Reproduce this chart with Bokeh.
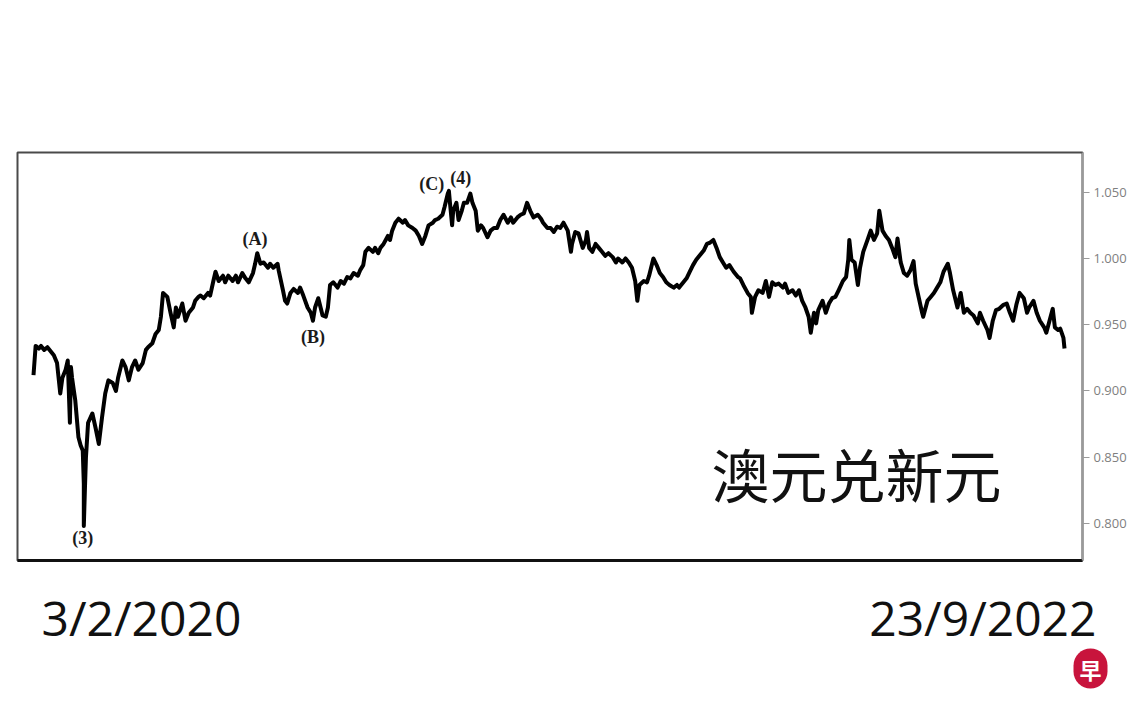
import pandas as pd
from bokeh.plotting import figure
from bokeh.layouts import column
from bokeh.models import Range1d, FixedTicker, NumeralTickFormatter, Label
from bokeh.embed import file_html
from bokeh.resources import INLINE

# ---------------- data ----------------
start_date = "2020-02-03"
end_date = "2022-09-23"

# day offsets from start_date
days = [
    0, 2, 5, 7, 10, 13, 16, 19, 22, 25, 27, 30, 32, 34, 35, 36, 39, 42, 44, 46,
    47, 47, 48, 49, 51, 55, 58, 61, 64, 67, 70, 74, 77, 79, 83, 86, 89, 92, 95, 98,
    102, 105, 107, 111, 114, 117, 119, 121, 125, 128, 131, 133, 135, 139, 142, 145, 149, 151, 154,
    156, 159, 163, 165, 168, 170, 173, 177, 179, 182, 186, 189, 191, 195, 198, 201, 205, 207, 209, 212,
    215, 219, 221, 224, 228, 229, 233, 235, 237, 240, 243, 247, 249, 252, 256, 259, 261, 263, 266, 270,
    273, 275, 277, 280, 284, 287, 290, 293, 296, 299, 303, 305, 308, 310, 313, 317, 319, 322, 324,
    327, 331, 333, 335, 338, 341, 345, 347, 350, 354, 357, 360, 363, 366, 369, 373, 375, 378, 382, 384,
    387, 388, 389, 391, 392, 395, 397, 400, 402, 405, 408, 410, 413, 415, 418, 420, 424, 427, 430, 433,
    436, 439, 443, 446, 448, 452, 455, 458, 461, 464, 467, 471, 474, 476, 480, 483, 486, 489,
    492, 495, 499, 502, 503, 506, 509, 513, 516, 517, 519, 522, 525, 528, 531, 534, 537, 541, 544, 546,
    550, 553, 556, 559, 562, 564, 566, 570, 573, 575, 579, 582, 585, 588, 591, 594, 598, 601, 603, 607,
    610, 613, 616, 619, 622, 626, 629, 632, 635, 638, 641, 644, 647, 650,
    654, 658, 660, 663, 667, 670, 671, 674, 677, 681, 684, 687, 690, 693, 696, 700, 702, 705, 709, 712,
    715, 718, 721, 724, 726, 729, 731, 733, 737, 740, 743, 746, 749, 752, 756, 759, 761, 762, 764, 767,
    770, 772, 775, 779, 782, 785, 788, 790, 793, 796, 799, 802, 805, 807, 810, 813, 816, 819, 822,
    824, 827, 830, 831, 835, 838, 841, 844, 847, 850, 854, 856, 859, 863, 866, 869, 872, 875, 878, 882,
    884, 887, 891, 893, 896, 899, 902, 906, 909, 912, 915, 918, 921, 925, 928, 930, 934, 937, 940, 944,
    946, 949, 952, 954, 957, 959, 962, 963,
]

# AUD/SGD rate
rate = [
    0.912, 0.934, 0.932, 0.934, 0.931, 0.933, 0.930, 0.927, 0.921, 0.898, 0.910, 0.916, 0.923, 0.876, 0.918, 0.910, 0.893, 0.865, 0.859, 0.855,
    0.830, 0.798, 0.825, 0.850, 0.876, 0.883, 0.872, 0.860, 0.880, 0.898, 0.908, 0.906, 0.900, 0.910, 0.923, 0.918, 0.908, 0.918, 0.923, 0.916,
    0.921, 0.931, 0.933, 0.936, 0.943, 0.946, 0.956, 0.974, 0.971, 0.959, 0.948, 0.963, 0.956, 0.966, 0.953, 0.959, 0.963, 0.968, 0.971,
    0.972, 0.970, 0.974, 0.972, 0.983, 0.990, 0.983, 0.987, 0.982, 0.987, 0.983, 0.987, 0.982, 0.989, 0.985, 0.982, 0.989, 0.996, 1.004, 0.996,
    0.997, 0.993, 0.996, 0.993, 0.996, 0.991, 0.976, 0.968, 0.966, 0.974, 0.977, 0.974, 0.978, 0.972, 0.963, 0.959, 0.953, 0.963, 0.970, 0.957,
    0.956, 0.963, 0.980, 0.982, 0.978, 0.983, 0.981, 0.986, 0.985, 0.989, 0.987, 0.991, 0.995, 1.005, 1.008, 1.005, 1.008, 1.004, 1.008,
    1.011, 1.017, 1.014, 1.021, 1.027, 1.030, 1.027, 1.029, 1.025, 1.023, 1.021, 1.017, 1.011, 1.017, 1.025, 1.027, 1.029, 1.030, 1.033, 1.039,
    1.049, 1.051, 1.042, 1.025, 1.036, 1.042, 1.029, 1.036, 1.042, 1.042, 1.049, 1.042, 1.036, 1.021, 1.025, 1.023, 1.016, 1.021, 1.023, 1.023,
    1.029, 1.033, 1.027, 1.031, 1.027, 1.031, 1.033, 1.034, 1.042, 1.036, 1.031, 1.033, 1.030, 1.027, 1.023, 1.023, 1.020, 1.024,
    1.023, 1.027, 1.021, 1.005, 1.011, 1.020, 1.019, 1.008, 1.014, 1.020, 1.008, 1.005, 1.011, 1.008, 1.005, 1.002, 1.004, 1.001, 0.997, 1.000,
    0.997, 1.000, 0.997, 0.993, 0.983, 0.968, 0.980, 0.983, 0.982, 0.987, 1.000, 0.995, 0.989, 0.986, 0.982, 0.980, 0.978, 0.980, 0.978, 0.982,
    0.985, 0.990, 0.995, 0.999, 1.002, 1.006, 1.011, 1.012, 1.014, 1.008, 1.001, 0.997, 0.993, 0.995,
    0.990, 0.986, 0.985, 0.980, 0.974, 0.971, 0.959, 0.971, 0.976, 0.974, 0.983, 0.971, 0.982, 0.980, 0.981, 0.978, 0.981, 0.974, 0.976, 0.972,
    0.976, 0.968, 0.963, 0.956, 0.944, 0.959, 0.951, 0.961, 0.968, 0.959, 0.966, 0.970, 0.971, 0.976, 0.983, 0.986, 0.999, 1.014, 0.999, 0.997,
    0.980, 0.993, 1.005, 1.014, 1.021, 1.014, 1.019, 1.036, 1.021, 1.017, 1.014, 1.008, 1.001, 1.015, 0.997, 0.989, 0.987, 0.991, 0.998,
    0.981, 0.970, 0.959, 0.956, 0.968, 0.971, 0.974, 0.978, 0.982, 0.990, 0.996, 0.989, 0.976, 0.963, 0.974, 0.959, 0.962, 0.959, 0.957, 0.951,
    0.959, 0.953, 0.946, 0.940, 0.953, 0.961, 0.962, 0.965, 0.966, 0.959, 0.953, 0.965, 0.974, 0.970, 0.959, 0.963, 0.968, 0.959, 0.953, 0.948,
    0.944, 0.953, 0.962, 0.948, 0.946, 0.947, 0.940, 0.932,
]

y_ticks = [0.80, 0.85, 0.90, 0.95, 1.00, 1.05]

wave_labels = ["(3)", "(A)", "(B)", "(C)", "(4)"]
wave_days = [46, 207, 261, 372, 399]
wave_rate = [0.789, 1.0144, 0.941, 1.056, 1.061]

title_text = "澳元兑新元"
start_label = "3/2/2020"
end_label = "23/9/2022"
logo_text = "早"

# ---------------- figures ----------------
t0 = pd.Timestamp(start_date)
t1 = pd.Timestamp(end_date)
dates = t0 + pd.to_timedelta(days, unit="D")


def ms(ts):
    return ts.value / 1e6


def day_ms(d):
    return ms(t0 + pd.Timedelta(days=d))


p = figure(
    width=1132, height=568,
    x_axis_type="datetime", y_axis_location="right",
    x_range=Range1d(day_ms(-14.94), day_ms(979.8)),
    y_range=Range1d(0.772, 1.080),
    output_backend="svg", toolbar_location=None,
    min_border_left=17, min_border_right=50, min_border_top=152, min_border_bottom=8,
)
p.frame_align = False
p.background_fill_color = "white"
p.border_fill_color = "white"
p.outline_line_color = "#4a4a4a"
p.outline_line_width = 2
p.xgrid.visible = False
p.ygrid.visible = False

# bottom axis: only its heavy line
p.xaxis.ticker = FixedTicker(ticks=[])
p.xaxis.axis_line_color = "#111111"
p.xaxis.axis_line_width = 3
p.xaxis.major_tick_line_color = None
p.xaxis.minor_tick_line_color = None
p.xaxis.major_tick_out = 0
p.xaxis.major_tick_in = 0
p.xaxis.major_label_standoff = 0
p.xaxis.major_label_text_font_size = "1px"

# right value axis
p.yaxis.ticker = FixedTicker(ticks=y_ticks)
p.yaxis.formatter = NumeralTickFormatter(format="0.000")
p.yaxis.axis_line_color = "#9a9a9a"
p.yaxis.axis_line_width = 1.5
p.yaxis.major_tick_line_color = "#9a9a9a"
p.yaxis.major_tick_in = 0
p.yaxis.major_tick_out = 7
p.yaxis.minor_tick_line_color = None
p.yaxis.major_label_standoff = 4
p.yaxis.major_label_text_font = "Open Sans"
p.yaxis.major_label_text_font_size = "13px"
p.yaxis.major_label_text_color = "#7f7f7f"

p.line(dates, rate, line_color="black", line_width=4, line_join="round")

# Elliott-wave labels
for txt, d, v in zip(wave_labels, wave_days, wave_rate):
    p.add_layout(Label(
        x=day_ms(d), y=v, text=txt,
        text_font="Liberation Serif", text_font_style="bold", text_font_size="18px",
        text_color="#1a1a1a", text_align="center", text_baseline="middle",
    ))

# chart title inside the frame
p.add_layout(Label(
    x=694, y=88, x_units="screen", y_units="screen", text=title_text,
    text_font="Noto Sans CJK SC", text_font_size="58px", text_color="#111111",
    text_align="left", text_baseline="alphabetic",
))

# caption strip below the chart (same day scale, full-width frame)
p2 = figure(
    width=1132, height=144,
    x_range=Range1d(day_ms(-30.82), day_ms(1026.5)), y_range=Range1d(0, 1),
    x_axis_location=None, y_axis_location=None,
    output_backend="svg", toolbar_location=None,
    min_border=0,
)
p2.frame_align = False
p2.outline_line_color = None
p2.grid.visible = False
p2.background_fill_color = "white"
p2.border_fill_color = "white"

p2.add_layout(Label(
    x=day_ms(0), y=95, y_units="screen", x_offset=8, text=start_label,
    text_font="Open Sans", text_font_size="48px", text_color="#111111",
    text_align="left", text_baseline="alphabetic",
))
p2.add_layout(Label(
    x=day_ms(963), y=95, y_units="screen", x_offset=32, text=end_label,
    text_font="Open Sans", text_font_size="48px", text_color="#111111",
    text_align="right", text_baseline="alphabetic",
))

# logo badge
p2.add_layout(Label(
    x=1090, y=44, x_units="screen", y_units="screen", text=logo_text,
    text_font="Noto Sans CJK SC", text_font_style="bold", text_font_size="22px",
    text_color="white", text_align="center", text_baseline="middle",
    background_fill_color="#c8143c",
    padding=dict(left=6, right=6, top=4, bottom=4), border_radius=17,
))

open("out.html", "w").write(file_html(column(p, p2), INLINE))
